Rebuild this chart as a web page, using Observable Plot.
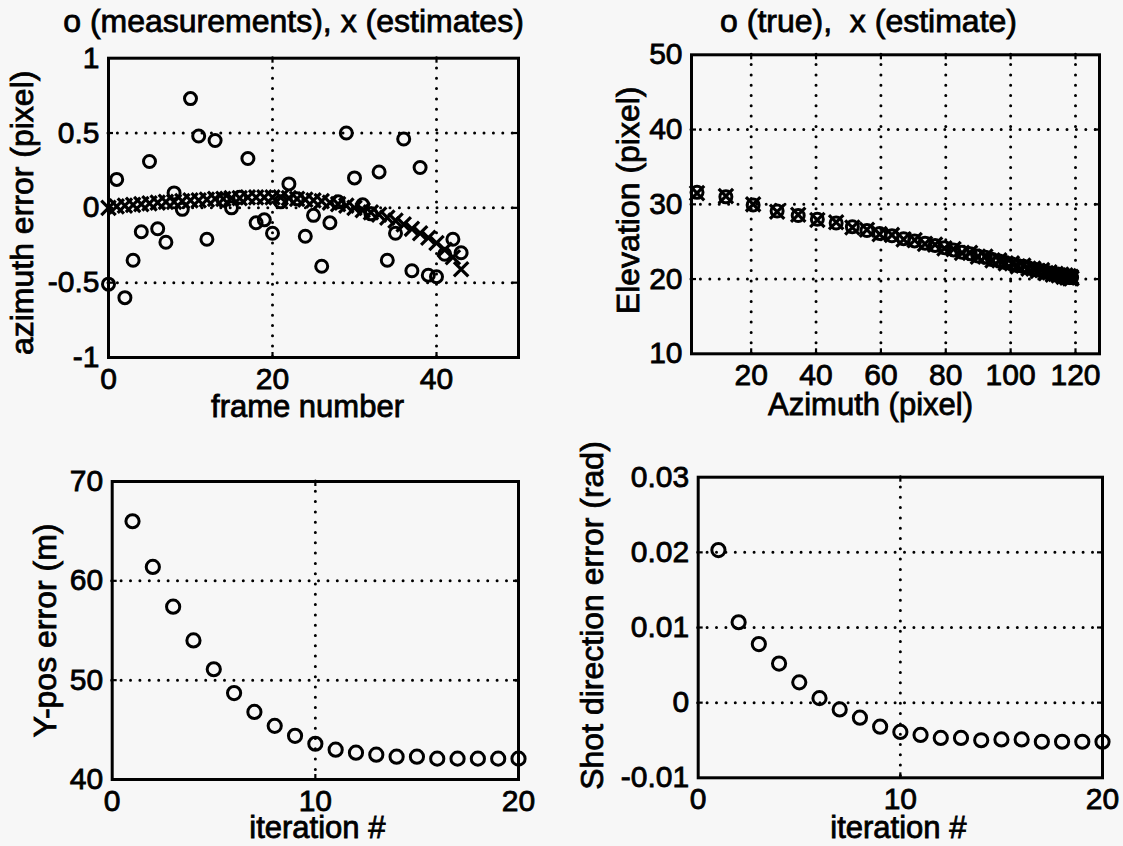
<!DOCTYPE html>
<html><head><meta charset="utf-8">
<script src="https://cdn.jsdelivr.net/npm/d3@7"></script>
<script src="https://cdn.jsdelivr.net/npm/@observablehq/plot@0.6"></script>
<style>
html,body{margin:0;padding:0;background:#f7f7f7;}
#fig{position:relative;width:1123px;height:846px;background:#f7f7f7;overflow:hidden;}
#fig svg{position:absolute;background:transparent !important;max-width:none !important;overflow:visible;}
#fig svg text{font-family:"Liberation Sans",Arial,Helvetica,sans-serif !important;fill:#000;stroke:#000;stroke-width:0.8px;}
</style></head><body><div id="fig"></div>
<script>
// ---------- Panel 1: azimuth error vs frame number ----------
const p1Frames = [0,1,2,3,4,5,6,7,8,9,10,11,12,13,14,15,16,17,18,19,20,21,22,23,24,25,26,27,28,29,30,31,32,33,34,35,36,37,38,39,40,41,42,43];
const p1Measured = [-0.51,0.19,-0.60,-0.35,-0.16,0.31,-0.14,-0.23,0.10,-0.01,0.73,0.48,-0.21,0.45,0.05,0.00,0.07,0.33,-0.10,-0.08,-0.17,0.04,0.16,0.06,-0.19,-0.05,-0.39,-0.10,0.04,0.50,0.20,0.02,-0.04,0.24,-0.35,-0.17,0.46,-0.42,0.27,-0.45,-0.46,-0.31,-0.21,-0.30];
const p1Estimate = [0.00,0.01,0.015,0.02,0.025,0.03,0.035,0.04,0.04,0.045,0.05,0.05,0.055,0.06,0.06,0.065,0.065,0.07,0.07,0.07,0.07,0.07,0.065,0.06,0.055,0.05,0.045,0.035,0.025,0.015,0.0,-0.015,-0.03,-0.045,-0.065,-0.085,-0.11,-0.14,-0.17,-0.20,-0.235,-0.28,-0.33,-0.41];
const p1XTicks = [0,20,40];
const p1YTicks = [-1,-0.5,0,0.5,1];
const p1GridX = [20,40];
const p1GridY = [-0.5,0,0.5];

// ---------- Panel 2: elevation vs azimuth ----------
const p2Azimuth = [3.3,12.2,20.6,28.0,34.5,40.4,46.2,51.2,55.7,59.6,63.4,67.0,70.4,73.6,76.7,79.6,82.4,85.0,87.5,89.9,92.2,94.4,96.5,98.5,100.4,102.2,103.9,105.5,107.0,108.4,109.7,110.9,112.0,113.0,113.9,114.8,115.6,116.3,116.9,117.4,117.9,118.3,118.6,118.8];
const p2ElevTrue = [31.6,31.0,29.9,29.1,28.5,28.0,27.5,27.0,26.5,26.1,25.8,25.4,25.1,24.8,24.5,24.2,23.9,23.6,23.4,23.1,22.9,22.6,22.4,22.2,22.0,21.8,21.7,21.5,21.3,21.2,21.1,20.9,20.8,20.7,20.6,20.6,20.5,20.4,20.4,20.3,20.3,20.2,20.2,20.2];
const p2ElevEst = [31.5,31.1,30.0,29.0,28.6,27.9,27.6,26.9,26.6,26.0,25.9,25.3,25.2,24.7,24.6,24.1,24.0,23.5,23.5,23.0,23.0,22.5,22.5,22.1,22.1,21.7,21.8,21.4,21.4,21.1,21.2,20.8,20.9,20.6,20.7,20.5,20.6,20.3,20.5,20.2,20.4,20.1,20.3,20.1];
const p2XTicks = [20,40,60,80,100,120];
const p2YTicks = [10,20,30,40,50];
const p2GridX = [20,40,60,80,100,120];
const p2GridY = [20,30,40];

// ---------- Panel 3: Y-pos error vs iteration ----------
const p3Iter = [1,2,3,4,5,6,7,8,9,10,11,12,13,14,15,16,17,18,19,20];
const p3YposErr = [66.0,61.4,57.4,54.0,51.1,48.7,46.8,45.4,44.4,43.6,43.0,42.7,42.5,42.3,42.3,42.1,42.1,42.1,42.1,42.1];
const p3XTicks = [0,10,20];
const p3YTicks = [40,50,60,70];
const p3GridX = [10];
const p3GridY = [50,60];

// ---------- Panel 4: shot direction error vs iteration ----------
const p4Iter = [1,2,3,4,5,6,7,8,9,10,11,12,13,14,15,16,17,18,19,20];
const p4ShotErr = [0.0203,0.0107,0.0078,0.0052,0.0027,0.0006,-0.0009,-0.0020,-0.0032,-0.0039,-0.0043,-0.0047,-0.0047,-0.0050,-0.0049,-0.0049,-0.0052,-0.0052,-0.0052,-0.0052];
const p4XTicks = [0,10,20];
const p4YTicks = [-0.01,0,0.01,0.02,0.03];
const p4GridX = [10];
const p4GridY = [0,0.01,0.02];

const FONT = "'Liberation Sans', Arial, Helvetica, sans-serif";
const TICKFS = 30;
const fmt = d => String(d);

function gridMarks(gx, gy) {
  return [
    Plot.ruleX(gx, {x: d => d, stroke: "black", strokeWidth: 3, strokeDasharray: "0 10.3", strokeLinecap: "round"}),
    Plot.ruleY(gy, {y: d => d, stroke: "black", strokeWidth: 3, strokeDasharray: "0 9.4", strokeLinecap: "round"})
  ];
}
function stubMarks(gx, gy, innerW, innerH) {
  const L = 5;
  return [
    Plot.tickX(gx, {x: d => d, insetTop: innerH - L, stroke: "black", strokeWidth: 2.2}),
    Plot.tickX(gx, {x: d => d, insetBottom: innerH - L, stroke: "black", strokeWidth: 2.2}),
    Plot.tickY(gy, {y: d => d, insetRight: innerW - L, stroke: "black", strokeWidth: 2.2}),
    Plot.tickY(gy, {y: d => d, insetLeft: innerW - L, stroke: "black", strokeWidth: 2.2})
  ];
}

function label(text, anchor, dx, dy, rotate, size) {
  return Plot.text([text], {frameAnchor: anchor, textAnchor: "middle", lineAnchor: "middle",
    rotate: rotate || 0, dx, dy, fontSize: size, fill: "black"});
}

function panel(cfg) {
  const innerW = cfg.width - cfg.ml - cfg.mr;
  const innerH = cfg.height - cfg.mt - cfg.mb;
  const svg = Plot.plot({
    width: cfg.width, height: cfg.height,
    marginLeft: cfg.ml, marginRight: cfg.mr, marginTop: cfg.mt, marginBottom: cfg.mb,
    style: {background: "transparent", fontSize: TICKFS + "px", fontFamily: FONT, color: "black", overflow: "visible"},
    x: {domain: cfg.xDomain, ticks: cfg.xTicks, tickSize: 0, tickPadding: 10, tickFormat: fmt, label: null},
    y: {domain: cfg.yDomain, ticks: cfg.yTicks, tickSize: 0, tickPadding: 9, tickFormat: fmt, label: null},
    marks: [
      ...gridMarks(cfg.gridX, cfg.gridY),
      ...stubMarks(cfg.gridX, cfg.gridY, innerW, innerH),
      Plot.frame({stroke: "black", strokeWidth: 3}),
      ...cfg.marks,
      cfg.title ? label(cfg.title, "top", cfg.titleDx, cfg.titleDy, 0, 32) : null,
      label(cfg.xLabel, "bottom", cfg.xLabelDx, cfg.xLabelDy, 0, 31),
      label(cfg.yLabel, "left", cfg.yLabelDx, cfg.yLabelDy, -90, 32)
    ].filter(Boolean)
  });
  svg.style.left = cfg.left + "px";
  svg.style.top = cfg.top + "px";
  document.getElementById("fig").appendChild(svg);
}

const circle = (data, x, y, r) => Plot.dot(data, {x, y, r: r || 6.3, stroke: "black", strokeWidth: 3, fill: "none"});
const cross = (data, x, y) => Plot.dot(data, {x, y, r: 6.6, symbol: "times", stroke: "black", strokeWidth: 3.2, fill: "none"});

const p1Rows = p1Frames.map((f, i) => ({frame: f, meas: p1Measured[i], est: p1Estimate[i]}));
const p2Rows = p2Azimuth.map((a, i) => ({az: a, elT: p2ElevTrue[i], elE: p2ElevEst[i]}));
const p3Rows = p3Iter.map((t, i) => ({it: t, v: p3YposErr[i]}));
const p4Rows = p4Iter.map((t, i) => ({it: t, v: p4ShotErr[i]}));

panel({left: 0, top: 0, width: 561, height: 423, ml: 108, mr: 43, mt: 57.7, mb: 66,
  xDomain: [0, 50], yDomain: [-1, 1], xTicks: p1XTicks, yTicks: p1YTicks, gridX: p1GridX, gridY: p1GridY,
  marks: [circle(p1Rows, "frame", "meas", 6), cross(p1Rows, "frame", "est")],
  title: "o (measurements), x (estimates)", titleDx: -20, titleDy: -36,
  xLabel: "frame number", xLabelDx: -6, xLabelDy: 50,
  yLabel: "azimuth error (pixel)", yLabelDx: -86, yLabelDy: 5});

panel({left: 561, top: 0, width: 562, height: 423, ml: 130, mr: 24, mt: 54.3, mb: 69.7,
  xDomain: [1.6, 127.4], yDomain: [10, 50], xTicks: p2XTicks, yTicks: p2YTicks, gridX: p2GridX, gridY: p2GridY,
  marks: [circle(p2Rows, "az", "elT", 6), cross(p2Rows, "az", "elE")],
  title: "o (true),  x (estimate)", titleDx: -27, titleDy: -33,
  xLabel: "Azimuth (pixel)", xLabelDx: -25, xLabelDy: 51,
  yLabel: "Elevation (pixel)", yLabelDx: -63, yLabelDy: -4});

panel({left: 0, top: 423, width: 561, height: 423, ml: 111.7, mr: 43, mt: 58, mb: 67,
  xDomain: [0, 20], yDomain: [40, 70], xTicks: p3XTicks, yTicks: p3YTicks, gridX: p3GridX, gridY: p3GridY,
  marks: [circle(p3Rows, "it", "v", 6.6)],
  title: null,
  xLabel: "iteration #", xLabelDx: 2, xLabelDy: 49,
  yLabel: "Y-pos error (m)", yLabelDx: -66, yLabelDy: 0});

panel({left: 561, top: 423, width: 562, height: 423, ml: 136.7, mr: 21, mt: 53.7, mb: 68.7,
  xDomain: [0, 20], yDomain: [-0.01, 0.03], xTicks: p4XTicks, yTicks: p4YTicks, gridX: p4GridX, gridY: p4GridY,
  marks: [circle(p4Rows, "it", "v", 6.6)],
  title: null,
  xLabel: "iteration #", xLabelDx: -2, xLabelDy: 50,
  yLabel: "Shot direction error (rad)", yLabelDx: -105, yLabelDy: -12});
</script>
</body></html>
